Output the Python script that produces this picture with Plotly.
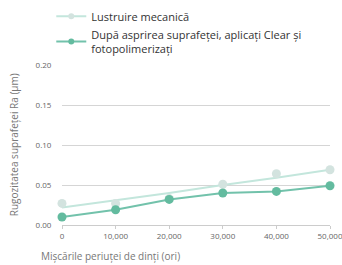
import plotly.graph_objects as go

brushings = [0, 10000, 20000, 30000, 40000, 50000]
x_ticks = ["0", "10,000", "20,000", "30,000", "40,000", "50,000"]
mech_points = [0.027, 0.027, 0.033, 0.051, 0.064, 0.069]
mech_trend = [0.022, 0.031, 0.040, 0.050, 0.059, 0.069]
clear_points = [0.010, 0.019, 0.032, 0.040, 0.042, 0.049]
y_ticks = [0.0, 0.05, 0.10, 0.15, 0.20]

name_mech = "Lustruire mecanică"
name_clear = "După asprirea suprafeței, aplicați Clear și<br>fotopolimerizați"

light_line = "#c3e6dc"
light_mark = "#d3e3df"
dark_line = "#72c2ab"
dark_mark = "#63bb9f"

fig = go.Figure()
fig.add_trace(go.Scatter(x=brushings, y=mech_trend, mode="lines",
                         line=dict(color=light_line, width=2), showlegend=False, hoverinfo="skip"))
fig.add_trace(go.Scatter(x=brushings, y=mech_points, mode="markers",
                         marker=dict(color=light_mark, size=9), showlegend=False))
fig.add_trace(go.Scatter(x=brushings, y=clear_points, mode="lines+markers",
                         line=dict(color=dark_line, width=2),
                         marker=dict(color=dark_mark, size=9), showlegend=False))
fig.add_trace(go.Scatter(x=[None], y=[None], mode="lines+markers", name=name_mech,
                         line=dict(color=light_line, width=2), marker=dict(color=light_mark, size=6)))
fig.add_trace(go.Scatter(x=[None], y=[None], mode="lines+markers", name=name_clear,
                         line=dict(color=dark_line, width=2), marker=dict(color=dark_mark, size=6)))

fig.update_layout(
    width=342, height=265,
    margin=dict(l=62, r=12, t=65, b=40, autoexpand=False),
    paper_bgcolor="white", plot_bgcolor="white",
    font=dict(family="Open Sans", color="#555"),
    legend=dict(x=-0.04, y=1.395, xanchor="left", yanchor="top",
                font=dict(size=11, color="#333"), bgcolor="rgba(0,0,0,0)",
                tracegroupgap=0, itemwidth=30),
    xaxis=dict(range=[0, 50000], tickvals=brushings, ticktext=x_ticks,
               tickfont=dict(size=8, color="#666"), showgrid=False,
               ticks="outside", ticklen=3, tickcolor="#ccc",
               ticklabeloverflow="allow",
               showline=True, linecolor="#ccc", linewidth=1, zeroline=False),
    yaxis=dict(range=[0, 0.2], tickvals=y_ticks, tickformat=".2f",
               tickfont=dict(size=8, color="#666"), showgrid=True,
               gridcolor="#d5d5d5", gridwidth=1, zeroline=False,
               ticks="outside", ticklen=8, tickcolor="rgba(0,0,0,0)"),
    showlegend=True,
)
for tr in fig.data:
    tr.cliponaxis = False

fig.add_annotation(text="Mișcările periuței de dinți (ori)", xref="paper", yref="paper",
                   x=-0.085, y=-0.135, xanchor="left", yanchor="top", showarrow=False,
                   font=dict(size=10, color="#777"))
fig.add_annotation(text="Rugozitatea suprafeței Ra (μm)", xref="paper", yref="paper",
                   x=-0.178, y=0.5, textangle=-90, xanchor="center", yanchor="middle",
                   showarrow=False, font=dict(size=10, color="#777"))

fig.write_html("out.html", config={"displayModeBar": False},
               post_script="document.body.style.margin='0';")
